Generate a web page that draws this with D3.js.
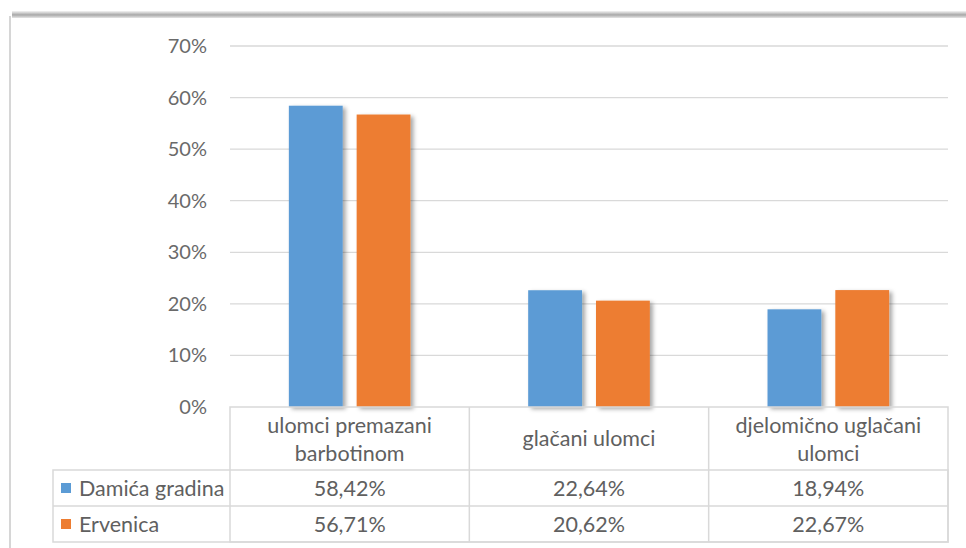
<!DOCTYPE html>
<html>
<head>
<meta charset="utf-8">
<script src="https://cdn.jsdelivr.net/npm/d3@7"></script>
<style>
  body { margin: 0; background: #fff; }
  text { font-family: Lato, "Open Sans", sans-serif; fill: #606060; }
</style>
</head>
<body>
<div id="chart"></div>
<script>
// data
const categories = [["ulomci premazani", "barbotinom"], ["glačani ulomci"], ["djelomično uglačani", "ulomci"]];
const seriesNames = ["Damića gradina", "Ervenica"];
const damica = [58.42, 22.64, 18.94];
const ervenica = [56.71, 20.62, 22.67];
const damicaLabels = ["58,42%", "22,64%", "18,94%"];
const ervenicaLabels = ["56,71%", "20,62%", "22,67%"];
const yTicks = [0, 10, 20, 30, 40, 50, 60, 70];
const colors = ["#5b9bd5", "#ed7d31"];

const W = 966, H = 548;
const plot = { left: 230, right: 948, top: 46, bottom: 407 };
const fs = "21.5px";

const svg = d3.select("#chart").append("svg")
  .attr("width", W).attr("height", H);

const defs = svg.append("defs");
const shadow = defs.append("filter").attr("id", "shadow")
  .attr("x", "-20%").attr("y", "-10%").attr("width", "150%").attr("height", "130%");
shadow.append("feDropShadow")
  .attr("dx", 3).attr("dy", 2).attr("stdDeviation", 2)
  .attr("flood-color", "#000").attr("flood-opacity", 0.35);

const grad = defs.append("linearGradient").attr("id", "topband")
  .attr("x1", 0).attr("y1", 0).attr("x2", 0).attr("y2", 1);
grad.append("stop").attr("offset", "0%").attr("stop-color", "#f4f4f4");
grad.append("stop").attr("offset", "55%").attr("stop-color", "#a8a8a8");
grad.append("stop").attr("offset", "100%").attr("stop-color", "#e6e6e6");

// frame
svg.append("line")
  .attr("x1", 10).attr("x2", 10).attr("y1", 16).attr("y2", H)
  .attr("stroke", "#d6d6d6").attr("stroke-width", 2);
svg.append("rect")
  .attr("x", 12).attr("y", 11).attr("width", W - 12).attr("height", 7)
  .attr("fill", "url(#topband)");

// scales
const y = d3.scaleLinear().domain([0, 70]).range([plot.bottom, plot.top]);
const x0 = d3.scaleBand().domain(d3.range(categories.length))
  .range([plot.left, plot.right]);
const x1 = d3.scaleBand().domain(seriesNames)
  .range([0, x0.bandwidth()]).paddingInner(0.206).paddingOuter(0.868);

// gridlines
svg.append("g").selectAll("line")
  .data(yTicks.filter(d => d > 0))
  .join("line")
    .attr("x1", plot.left).attr("x2", plot.right)
    .attr("y1", d => y(d)).attr("y2", d => y(d))
    .attr("stroke", "#d9d9d9").attr("stroke-width", 1.3);

// y axis labels
svg.append("g").selectAll("text")
  .data(yTicks)
  .join("text")
    .attr("x", 207)
    .attr("y", d => y(d))
    .attr("dy", "0.35em")
    .attr("text-anchor", "end")
    .style("font-size", "20px")
    .style("fill", "#6a6a6a")
    .text(d => d + "%");

// bars
const values = [damica, ervenica];
seriesNames.forEach(function(s, si) {
  svg.append("g").selectAll("rect")
    .data(values[si])
    .join("rect")
      .attr("x", (d, i) => x0(i) + x1(s))
      .attr("width", x1.bandwidth())
      .attr("y", d => y(d))
      .attr("height", d => y(0) - y(d))
      .attr("fill", colors[si])
      .attr("filter", "url(#shadow)");
});

// data table
const rowTop = plot.bottom, catRowH = 63, rowH = 36;
const tableLeft = 53;
const g = svg.append("g").attr("stroke", "#d9d9d9").attr("stroke-width", 1.5).attr("fill", "none");
g.append("rect").attr("x", plot.left).attr("y", rowTop)
  .attr("width", plot.right - plot.left).attr("height", catRowH + 2 * rowH);
g.append("rect").attr("x", tableLeft).attr("y", rowTop + catRowH)
  .attr("width", plot.right - tableLeft).attr("height", 2 * rowH);
g.append("line").attr("x1", tableLeft).attr("x2", plot.right)
  .attr("y1", rowTop + catRowH + rowH).attr("y2", rowTop + catRowH + rowH);
g.selectAll(".vline")
  .data(d3.range(1, categories.length))
  .join("line")
    .attr("x1", i => x0(i)).attr("x2", i => x0(i))
    .attr("y1", rowTop).attr("y2", rowTop + catRowH + 2 * rowH);

// category labels
categories.forEach(function(lines, i) {
  const cx = x0(i) + x0.bandwidth() / 2;
  const t = svg.append("text")
    .attr("text-anchor", "middle")
    .style("font-size", fs);
  const start = lines.length === 1 ? rowTop + catRowH / 2 + 7 : rowTop + 26;
  lines.forEach(function(l, k) {
    t.append("tspan").attr("x", cx).attr("y", start + k * 28).text(l);
  });
});

// legend rows + values
const labelSets = [damicaLabels, ervenicaLabels];
seriesNames.forEach(function(s, si) {
  const cy = rowTop + catRowH + rowH * si + rowH / 2;
  svg.append("rect")
    .attr("x", 61).attr("y", cy - 5).attr("width", 10).attr("height", 10)
    .attr("fill", colors[si]);
  svg.append("text")
    .attr("x", 79).attr("y", cy).attr("dy", "0.35em")
    .style("font-size", fs)
    .text(s);
  svg.append("g").selectAll("text")
    .data(labelSets[si])
    .join("text")
      .attr("x", (d, i) => x0(i) + x0.bandwidth() / 2)
      .attr("y", cy).attr("dy", "0.35em")
      .attr("text-anchor", "middle")
      .style("font-size", fs)
      .text(d => d);
});
</script>
</body>
</html>
